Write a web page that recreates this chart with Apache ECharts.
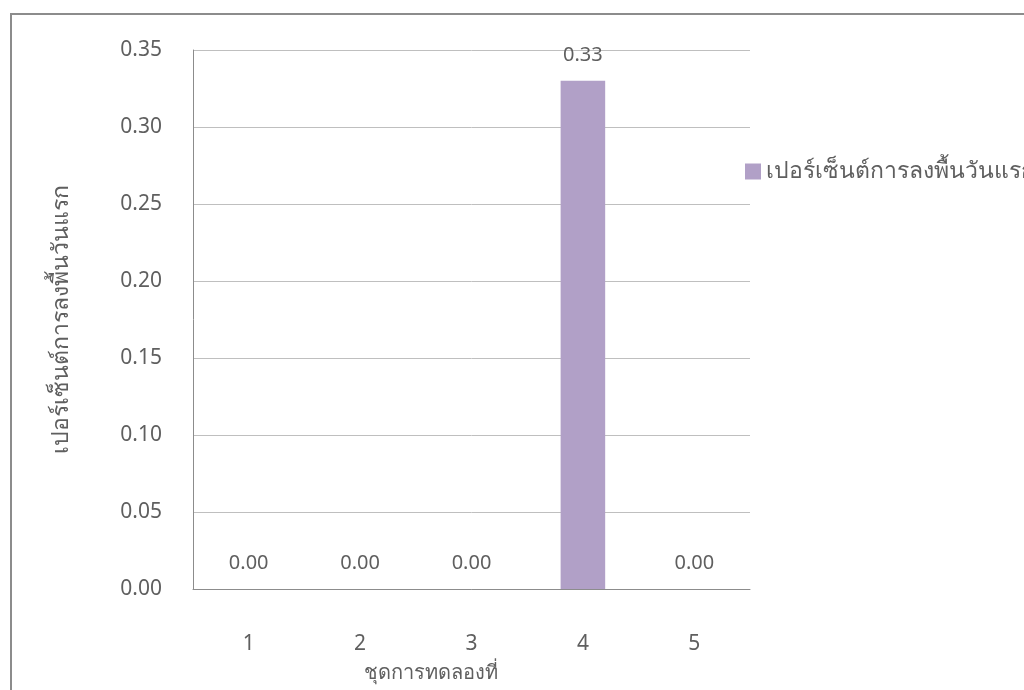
<!DOCTYPE html>
<html>
<head>
<meta charset="utf-8">
<script src="https://cdn.jsdelivr.net/npm/echarts@6/dist/echarts.min.js"></script>
<style>
  html, body { margin: 0; padding: 0; background: #ffffff; }
  #chart { width: 1024px; height: 690px; }
</style>
</head>
<body>
<div id="chart"></div>
<script>
// Experiment sets and first-day landing percentage
const categories = ['1', '2', '3', '4', '5'];
const landingPercent = [0.00, 0.00, 0.00, 0.33, 0.00];
const seriesName = 'เปอร์เซ็นต์การลงพื้นวันแรก';
const xAxisTitle = 'ชุดการทดลองที่';
const yAxisTitle = 'เปอร์เซ็นต์การลงพื้นวันแรก';

const FONT = '"Noto Sans", "DejaVu Sans", sans-serif';
const TEXT = '#5f5f5f';

const chart = echarts.init(document.getElementById('chart'));
chart.setOption({
  backgroundColor: '#ffffff',
  animation: false,
  textStyle: { fontFamily: FONT },
  graphic: [
    {
      type: 'rect',
      shape: { x: 11, y: 14, width: 1200, height: 900 },
      style: { fill: 'none', stroke: '#8c8c8c', lineWidth: 2 },
      silent: true
    },
    {
      type: 'text',
      x: 431, y: 673,
      style: {
        text: xAxisTitle,
        fill: TEXT,
        font: '20px ' + FONT,
        align: 'center',
        verticalAlign: 'middle'
      }
    }
  ],
  legend: {
    left: 740, top: 155,
    itemWidth: 16, itemHeight: 16, itemGap: 8,
    icon: 'rect',
    textStyle: { color: TEXT, fontSize: 23, fontFamily: FONT },
    data: [seriesName]
  },
  grid: { left: 193, right: 274, top: 50, bottom: 101, containLabel: false },
  xAxis: {
    type: 'category',
    data: categories,
    axisLine: { lineStyle: { color: '#8c8c8c', width: 1 } },
    axisTick: { show: false },
    axisLabel: { color: TEXT, fontSize: 21, margin: 45, fontFamily: FONT }
  },
  yAxis: {
    type: 'value',
    min: 0, max: 0.35, interval: 0.05,
    name: yAxisTitle,
    nameLocation: 'middle',
    nameGap: 120,
    nameTextStyle: { color: TEXT, fontSize: 23, fontFamily: FONT },
    axisLine: { show: true, lineStyle: { color: '#8c8c8c', width: 1 } },
    axisTick: { show: false },
    splitLine: { lineStyle: { color: '#bfbfbf', width: 1 } },
    axisLabel: {
      color: TEXT, fontSize: 21, margin: 31, fontFamily: FONT,
      formatter: v => v.toFixed(2)
    }
  },
  series: [{
    name: seriesName,
    type: 'bar',
    data: landingPercent,
    barWidth: '40%',
    itemStyle: { color: '#b1a0c7' },
    label: {
      show: true,
      position: 'top',
      distance: 16,
      color: TEXT,
      fontSize: 20,
      fontFamily: FONT,
      formatter: p => p.value.toFixed(2)
    }
  }]
});
</script>
</body>
</html>
